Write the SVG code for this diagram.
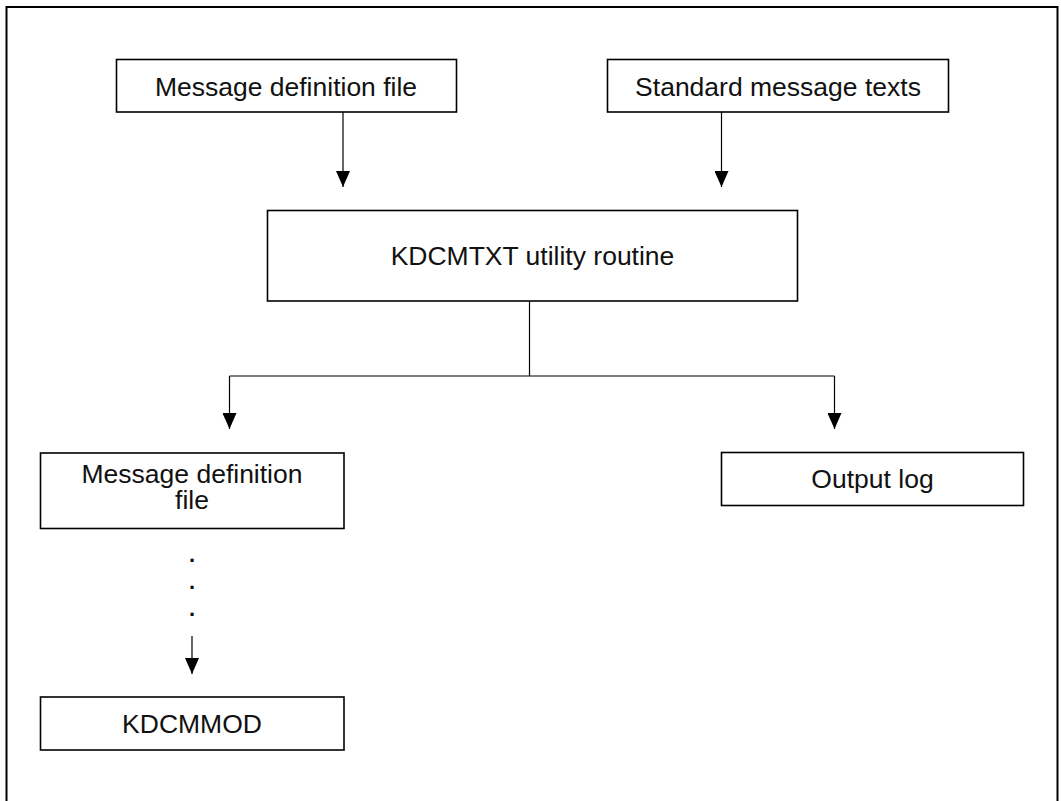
<svg xmlns="http://www.w3.org/2000/svg" width="1061" height="801" viewBox="0 0 1061 801">
<defs>
<marker id="ah" markerUnits="userSpaceOnUse" markerWidth="16" markerHeight="14" refX="16" refY="7" orient="auto">
<path d="M0,0 L16,7 L0,14 z" fill="#000"/>
</marker>
<style>
.box{fill:#fff;stroke:#000;stroke-width:1.6}
.lbl{font-family:"Liberation Sans",Arial,sans-serif;font-size:26.5px;fill:#111;text-anchor:middle}
.dot{font-family:"Liberation Sans",Arial,sans-serif;font-size:22px;font-weight:bold;fill:#111;text-anchor:middle}
.con{fill:none;stroke:#000;stroke-width:1.2}
.arr{marker-end:url(#ah)}
</style>
</defs>
<rect width="1061" height="801" fill="#fff"/>
<path d="M6.5,801 V7 H1057.5 V801" fill="none" stroke="#000" stroke-width="2"/>
<g id="connectors">
<line class="con arr" x1="343" y1="112" x2="343" y2="187"/>
<line class="con arr" x1="721.5" y1="112" x2="721.5" y2="187"/>
<polyline class="con" points="529.5,301 529.5,376"/>
<line class="con" x1="229.5" y1="376" x2="834.5" y2="376"/>
<line class="con arr" x1="229.5" y1="376" x2="229.5" y2="429"/>
<line class="con arr" x1="834.5" y1="376" x2="834.5" y2="429"/>
<line class="con arr" x1="192" y1="636" x2="192" y2="674"/>
</g>
<g id="msgdef-in">
<rect class="box" x="116.5" y="59.5" width="340" height="52.5"/>
<text class="lbl" x="286" y="96">Message definition file</text>
</g>
<g id="std-texts">
<rect class="box" x="607.5" y="59.5" width="341" height="52.5"/>
<text class="lbl" x="778" y="96">Standard message texts</text>
</g>
<g id="kdcmtxt">
<rect class="box" x="267.5" y="210.5" width="530" height="90.5"/>
<text class="lbl" x="532.5" y="265">KDCMTXT utility routine</text>
</g>
<g id="msgdef-out">
<rect class="box" x="40.5" y="453" width="303.5" height="75.5"/>
<text class="lbl" x="192" y="483"><tspan x="192" y="483">Message definition</tspan><tspan x="192" y="509">file</tspan></text>
</g>
<g id="dots">
<text class="dot" x="192" y="562">.</text>
<text class="dot" x="192" y="589">.</text>
<text class="dot" x="192" y="616">.</text>
</g>
<g id="output-log">
<rect class="box" x="721.5" y="452.5" width="302" height="53"/>
<text class="lbl" x="872.5" y="488">Output log</text>
</g>
<g id="kdcmmod">
<rect class="box" x="40.5" y="697" width="303.5" height="53"/>
<text class="lbl" x="192" y="733">KDCMMOD</text>
</g>
</svg>
